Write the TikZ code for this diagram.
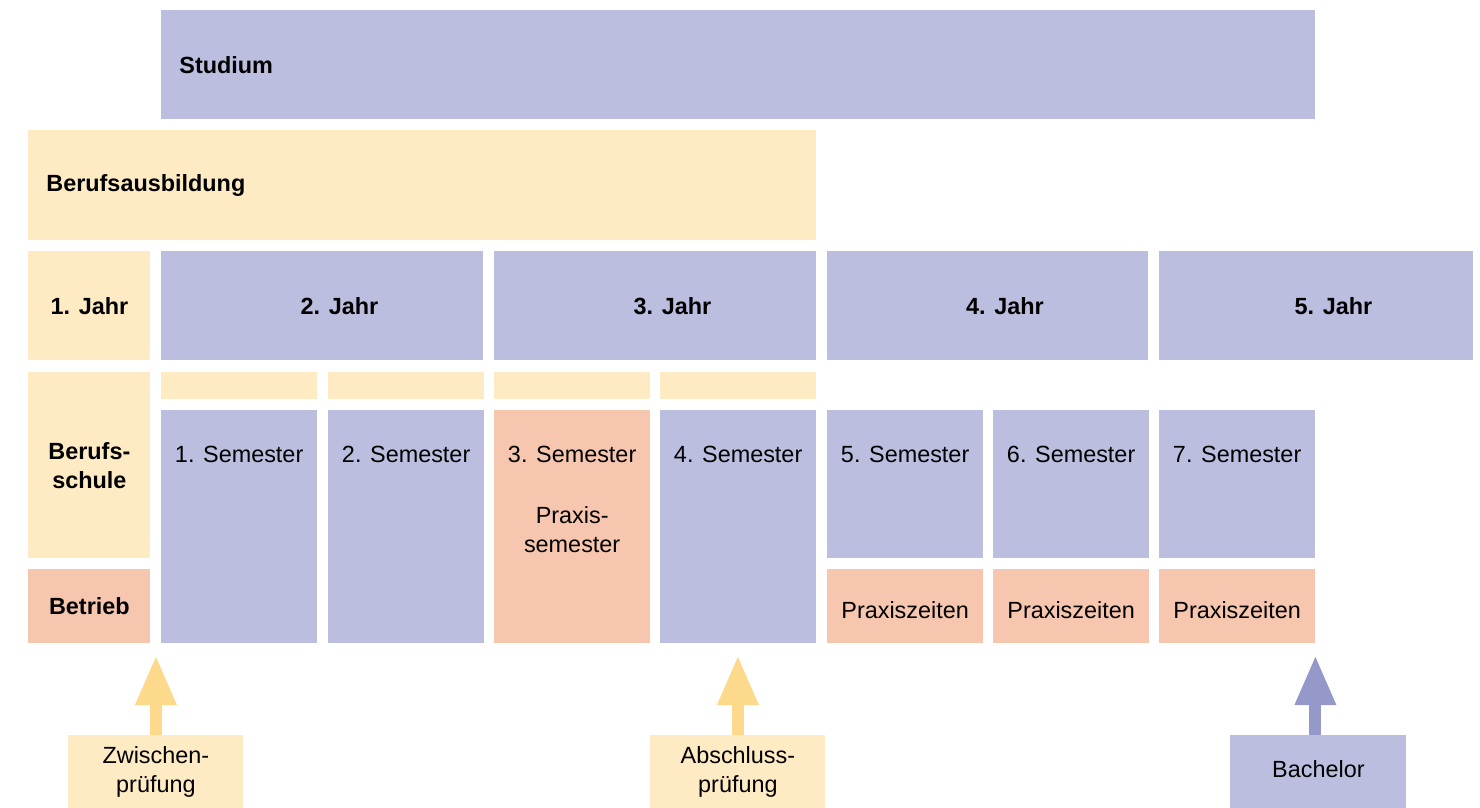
\documentclass[tikz,border=0pt]{standalone}
\usepackage{fontspec}
\setmainfont{Liberation Sans}
\usetikzlibrary{positioning}
\usetikzlibrary{arrows.meta}

\definecolor{lila}{HTML}{BBBEDF}
\definecolor{gelb}{HTML}{FEEAC3}
\definecolor{lachs}{HTML}{F7C6AE}
\definecolor{gelbpfeil}{HTML}{FDD98B}
\definecolor{lilapfeil}{HTML}{9499C9}

\newcommand{\grundschrift}{\fontsize{11.7pt}{14.5pt}\selectfont}

\tikzset{
  every node/.style={font=\grundschrift, text=black},
  cell/.style 2 args={inner sep=0pt, minimum width=#1*0.5pt, minimum height=#2*0.5pt, anchor=north west},
  fett/.style={font=\grundschrift\bfseries},
  kopf/.style={fett, align=left, inner xsep=9pt, text width=#1},
  jahr/.style={fett, xshift=8.5pt},
  semtext/.style={anchor=base, yshift=-26pt},
  pfeil/.style={draw=#1, line width=6pt, -{Triangle[length=25pt, width=19pt]}},
}

\begin{document}
\begin{tikzpicture}[x=0.5pt, y=-0.5pt]
  \useasboundingbox (0,0) rectangle (1480,808);

  \node[cell={1154}{109}, fill=lila, kopf=559pt] (studium) at (161,10) {Studium};
  \node[cell={788}{110}, fill=gelb, kopf=376pt] (ausbildung) at (28,130) {Berufsausbildung};

  % Jahre
  \node[cell={122}{109}, fill=gelb, fett] (jahr1) at (28,251) {1. Jahr};
  \foreach \x/\w [count=\i from 2] in {161/322, 494/322, 827/321, 1159/314}
    \node[cell={\w}{109}, fill=lila, label={[jahr]center:\i. Jahr}] (jahr\i) at (\x,251) {};

  \node[cell={122}{186}, fill=gelb, fett, align=center] (schule) at (28,372) {Berufs-\\schule};
  \node[cell={122}{74}, fill=lachs, fett] (betrieb) at (28,569) {Betrieb};

  \foreach \x [count=\i] in {161,328,494,660}
    \node[cell={155.5}{27}, fill=gelb] (block\i) at (\x,372) {};

  % Semester
  \foreach \x/\farbe [count=\i] in {161/lila, 328/lila, 494/lachs, 660/lila}
    \node[cell={155.5}{233}, fill=\farbe, label={[semtext]north:\i. Semester}] (sem\i) at (\x,410) {};
  \node[align=center] (praxissem) at ([yshift=-1.5pt]sem3.center) {Praxis-\\semester};

  \foreach \x [count=\i from 5] in {827,993,1159} {
    \node[cell={155.5}{148}, fill=lila, label={[semtext]north:\i. Semester}] (sem\i) at (\x,410) {};
    \node[cell={155.5}{74}, fill=lachs, label={[yshift=-2pt]center:Praxiszeiten}] (praxis\i) at (\x,569) {};
  }

  % Pruefungen
  \node[cell={175}{73}, fill=gelb, align=center] (zwischen) at (68,735) {Zwischen-\\prüfung};
  \node[cell={175}{73}, fill=gelb, align=center] (abschluss) at (650,735) {Abschluss-\\prüfung};
  \node[cell={176}{73}, fill=lila, label={[yshift=1.5pt]center:Bachelor}] (bachelor) at (1230,735) {};

  \coordinate (zwischenspitze) at ([yshift=40pt]zwischen.north);
  \coordinate (abschlussspitze) at ([yshift=40pt]abschluss.north);
  \coordinate (bachelorspitze) at ([xshift=-1.5pt, yshift=40pt]bachelor.north);

  \draw[pfeil=gelbpfeil] (zwischen) -- (zwischenspitze);
  \draw[pfeil=gelbpfeil] (abschluss) -- (abschlussspitze);
  \draw[pfeil=lilapfeil] (bachelor.north -| bachelorspitze) -- (bachelorspitze);
\end{tikzpicture}
\end{document}
